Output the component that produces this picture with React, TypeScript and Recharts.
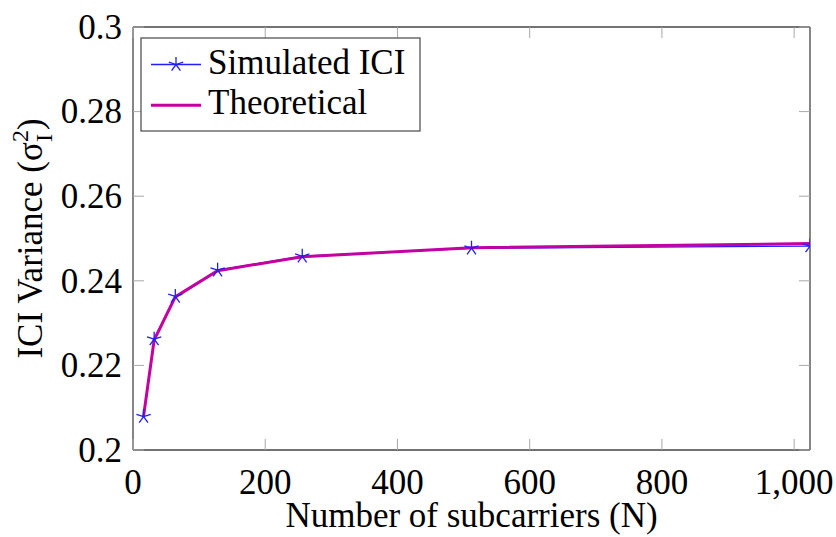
import React from 'react';
import { LineChart, Line, XAxis, YAxis } from 'recharts';

const subcarriers = [16, 32, 64, 128, 256, 512, 1024];
const simulatedICI = [0.2079, 0.2262, 0.2363, 0.2425, 0.2458, 0.2477, 0.2482];
const theoreticalICI = [0.208, 0.226, 0.2362, 0.2424, 0.2457, 0.2478, 0.2488];
const xTicks = [0, 200, 400, 600, 800, 1000];
const xTickLabels = ['0', '200', '400', '600', '800', '1,000'];
const yTicks = [0.2, 0.22, 0.24, 0.26, 0.28, 0.3];
const yTickLabels = ['0.2', '0.22', '0.24', '0.26', '0.28', '0.3'];
const seriesNames = ['Simulated ICI', 'Theoretical'];
const seriesColors = ['#1f1fff', '#c400a0'];

const data = subcarriers.map((n, i) => ({ n, sim: simulatedICI[i], theo: theoreticalICI[i] }));

const FS = 35;
const serif = (size: number) => ({ fontFamily: 'Liberation Serif', fontSize: size });
const TICK_LEN = 11;
const TICK_COLOR = '#a8a8a8';
const BORDER = '#444';

const starPath = (cx: number, cy: number, r: number) => {
  let d = '';
  for (let k = 0; k < 5; k++) {
    const a = ((-90 + k * 72) * Math.PI) / 180;
    d += `M${cx},${cy}L${cx + r * Math.cos(a)},${cy + r * Math.sin(a)}`;
  }
  return d;
};

const StarDot = (props: any) => {
  const { cx, cy } = props;
  if (cx == null || cy == null) return null;
  return <path d={starPath(cx, cy, 7.5)} stroke={seriesColors[0]} strokeWidth={1.3} fill="none" />;
};

const BottomTick = (props: any) => {
  const { x, y, payload } = props;
  const idx = xTicks.indexOf(payload.value);
  return (
    <g>
      <line x1={x} y1={y} x2={x} y2={y - TICK_LEN} stroke={TICK_COLOR} strokeWidth={1} />
      <text x={x} y={493.5} textAnchor="middle" style={serif(FS)}>
        {idx >= 0 ? xTickLabels[idx] : ''}
      </text>
    </g>
  );
};

const TopTick = (props: any) => {
  const { x, y } = props;
  return <line x1={x} y1={y} x2={x} y2={y + TICK_LEN} stroke={TICK_COLOR} strokeWidth={1} />;
};

const LeftTick = (props: any) => {
  const { x, y, payload } = props;
  let idx = -1;
  yTicks.forEach((t, i) => {
    if (Math.abs(t - payload.value) < 1e-9) idx = i;
  });
  return (
    <g>
      <line x1={x} y1={y} x2={x + TICK_LEN} y2={y} stroke={TICK_COLOR} strokeWidth={1} />
      <text x={x - 11} y={y + 11.8} textAnchor="end" style={serif(FS)}>
        {idx >= 0 ? yTickLabels[idx] : ''}
      </text>
    </g>
  );
};

const RightTick = (props: any) => {
  const { x, y } = props;
  return <line x1={x} y1={y} x2={x - TICK_LEN} y2={y} stroke={TICK_COLOR} strokeWidth={1} />;
};

const YLabel = (props: any) => {
  const vb = props.viewBox || { x: 0, y: 27, width: 133, height: 423 };
  const cx = 42;
  const cy = vb.y + vb.height / 2;
  return (
    <text
      x={cx}
      y={cy}
      transform={`rotate(-90, ${cx}, ${cy})`}
      textAnchor="middle"
      style={serif(FS)}
    >
      <tspan>ICI Variance (σ</tspan>
      <tspan style={serif(24)} dy={-14}>2</tspan>
      <tspan style={serif(24)} dx={-12} dy={24}>I</tspan>
      <tspan dx={4} dy={-10}>)</tspan>
    </text>
  );
};

const XLabel = (props: any) => {
  const vb = props.viewBox || { x: 133, y: 450, width: 677, height: 87 };
  return (
    <text x={vb.x + vb.width / 2} y={527} textAnchor="middle" style={serif(FS)}>
      Number of subcarriers (N)
    </text>
  );
};

const LegendBox = () => (
  <svg width={282} height={95} style={{ position: 'absolute', left: 140, top: 37 }}>
    <rect x={1} y={1} width={279} height={93} fill="#fff" stroke="#555" strokeWidth={1.3} />
    <line x1={11} y1={27.5} x2={61} y2={27.5} stroke={seriesColors[0]} strokeWidth={1.3} />
    <path d={starPath(36, 27.5, 7.5)} stroke={seriesColors[0]} strokeWidth={1.3} fill="none" />
    <text x={68} y={37} style={serif(FS)}>{seriesNames[0]}</text>
    <line x1={11} y1={68.3} x2={61} y2={68.3} stroke={seriesColors[1]} strokeWidth={3} />
    <text x={68} y={77.3} style={serif(FS)}>{seriesNames[1]}</text>
  </svg>
);

export default function App() {
  return (
    <div style={{ position: 'absolute', left: 0, top: 0, width: 836, height: 537, fontFamily: 'Liberation Serif' }}>
      <LineChart
        width={836}
        height={537}
        data={data}
        margin={{ top: 26, right: 25, bottom: 0, left: 0 }}
      >
        <XAxis
          xAxisId="bottom"
          dataKey="n"
          type="number"
          domain={[0, 1024]}
          ticks={xTicks}
          interval={0}
          height={87}
          tickSize={0}
          tickMargin={0}
          tickLine={false}
          axisLine={{ stroke: BORDER, strokeWidth: 1.3 }}
          tick={BottomTick}
          label={<XLabel />}
          allowDataOverflow
        />
        <XAxis
          xAxisId="top"
          orientation="top"
          dataKey="n"
          type="number"
          domain={[0, 1024]}
          ticks={xTicks}
          interval={0}
          height={1}
          tickSize={0}
          tickMargin={0}
          tickLine={false}
          axisLine={{ stroke: BORDER, strokeWidth: 1.3 }}
          tick={TopTick}
          allowDataOverflow
        />
        <YAxis
          yAxisId="left"
          type="number"
          domain={[0.2, 0.3]}
          ticks={yTicks}
          interval={0}
          width={133}
          tickSize={0}
          tickMargin={0}
          tickLine={false}
          axisLine={{ stroke: BORDER, strokeWidth: 1.3 }}
          tick={LeftTick}
          label={<YLabel />}
          allowDataOverflow
        />
        <YAxis
          yAxisId="right"
          orientation="right"
          type="number"
          domain={[0.2, 0.3]}
          ticks={yTicks}
          interval={0}
          width={1}
          tickSize={0}
          tickMargin={0}
          tickLine={false}
          axisLine={{ stroke: BORDER, strokeWidth: 1.3 }}
          tick={RightTick}
          allowDataOverflow
        />
        <Line
          xAxisId="bottom"
          yAxisId="left"
          type="linear"
          dataKey="sim"
          name={seriesNames[0]}
          stroke={seriesColors[0]}
          strokeWidth={1.3}
          dot={false}
          activeDot={false}
          isAnimationActive={false}
        />
        <Line
          xAxisId="bottom"
          yAxisId="left"
          type="linear"
          dataKey="theo"
          name={seriesNames[1]}
          stroke={seriesColors[1]}
          strokeWidth={3}
          dot={false}
          activeDot={false}
          isAnimationActive={false}
        />
        <Line
          xAxisId="bottom"
          yAxisId="left"
          type="linear"
          dataKey="sim"
          name="sim-markers"
          stroke="none"
          dot={<StarDot />}
          activeDot={false}
          legendType="none"
          isAnimationActive={false}
        />
      </LineChart>
      <LegendBox />
    </div>
  );
}
